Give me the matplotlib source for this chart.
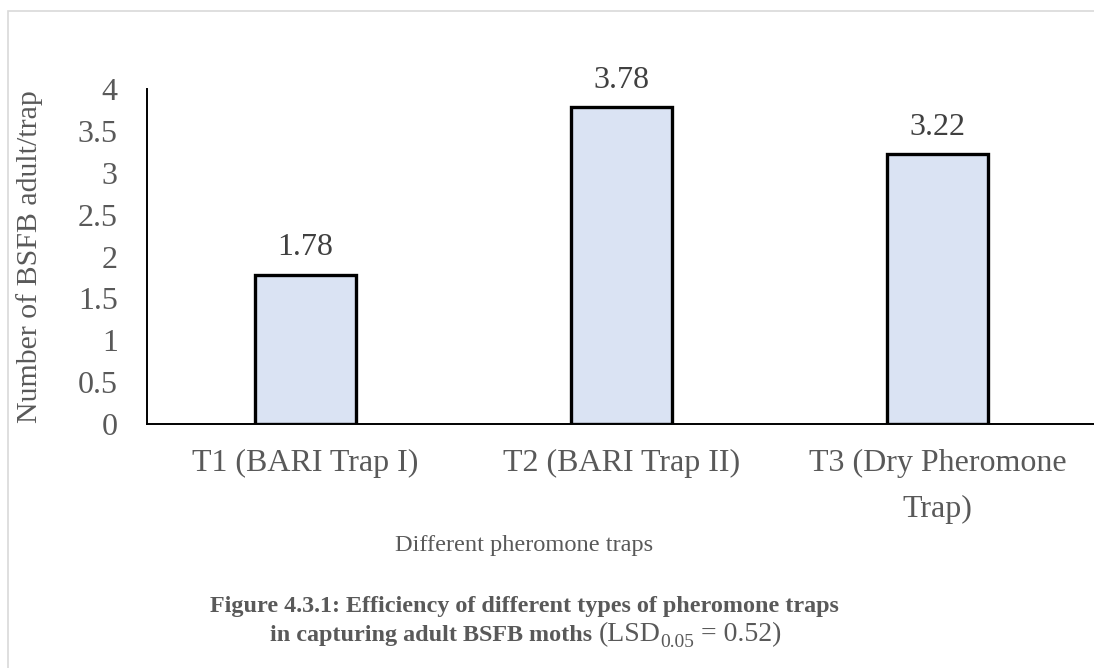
import matplotlib
matplotlib.use("Agg")
import matplotlib.pyplot as plt
from matplotlib.patches import Rectangle

plt.rcParams['font.family'] = ['Liberation Serif', 'DejaVu Serif']

# trap catch data
traps = ['T1 (BARI Trap I)', 'T2 (BARI Trap II)', 'T3 (Dry Pheromone\nTrap)']
adults_per_trap = [1.78, 3.78, 3.22]
y_ticks = [0, 0.5, 1, 1.5, 2, 2.5, 3, 3.5, 4]

GREY = '#595959'
FS_TICK = 23
FS_YLAB = 21.5
FS_XLAB = 17.6
FS_CAP = 17.4

W, H = 1094, 668
fig = plt.figure(figsize=(W / 100, H / 100), dpi=100)

# light outer chart frame
fig.patches.append(Rectangle((8 / W, -0.5), 2, 1.5 - 11 / H,
                             transform=fig.transFigure, fill=False,
                             edgecolor='#d9d9d9', linewidth=1.2))

ax = fig.add_axes([147 / W, 1 - 424 / H, 949 / W, 335 / H])
x = range(len(traps))
bars = ax.bar(x, adults_per_trap, width=0.32, color='#dae3f3',
              edgecolor='black', linewidth=2.4, zorder=3)

for b, v in zip(bars, adults_per_trap):
    ax.annotate(f'{v:.2f}', (b.get_x() + b.get_width() / 2, v),
                xytext=(0, 9), textcoords='offset points',
                ha='center', va='bottom', fontsize=FS_TICK, color='#404040')

ax.set_xlim(-0.5, 2.5)
ax.set_ylim(0, 4)
ax.set_yticks(y_ticks)
ax.set_yticklabels([f'{t:g}' for t in y_ticks])
ax.set_xticks(list(x))
ax.set_xticklabels(traps, linespacing=1.75)
ax.tick_params(axis='both', length=0, labelsize=FS_TICK, labelcolor=GREY)
ax.tick_params(axis='y', pad=21)
ax.tick_params(axis='x', pad=18)

for s in ['top', 'right']:
    ax.spines[s].set_visible(False)
for s in ['left', 'bottom']:
    ax.spines[s].set_color('black')
    ax.spines[s].set_linewidth(1.4)

ax.set_ylabel('Number of BSFB adult/trap', fontsize=FS_YLAB, color=GREY)
ax.yaxis.set_label_coords(-104 / 949, 0.5)
fig.text(524 / W, 1 - 545 / H, 'Different pheromone traps',
         fontsize=FS_XLAB, color=GREY, ha='center', va='center')

# caption, first line bold
fig.text(524 / W, 1 - 612 / H,
         'Figure 4.3.1: Efficiency of different types of pheromone traps',
         fontsize=FS_CAP, color=GREY, ha='center', va='baseline',
         fontweight='bold')

# second line: bold text, then regular LSD value with a subscript
cap_parts = [
    ('in capturing adult BSFB moths ', FS_CAP, 'bold', 0),
    ('(LSD', 20, 'normal', 0),
    ('0.05', 14, 'normal', -6),
    (' = 0.52)', 20, 'normal', 0),
]
renderer = fig.canvas.get_renderer()
items = []
for s, fs, fw, dy in cap_parts:
    t = fig.text(0, 1 - 641 / H, s, fontsize=fs, fontweight=fw, color=GREY,
                 ha='left', va='baseline')
    items.append((t, dy, t.get_window_extent(renderer).width))
total = sum(w for _, _, w in items)
cx = 526 - total / 2
for t, dy, w in items:
    t.set_position((cx / W, 1 - (641 - dy) / H))
    cx += w

fig.savefig('out.png', dpi=100)
